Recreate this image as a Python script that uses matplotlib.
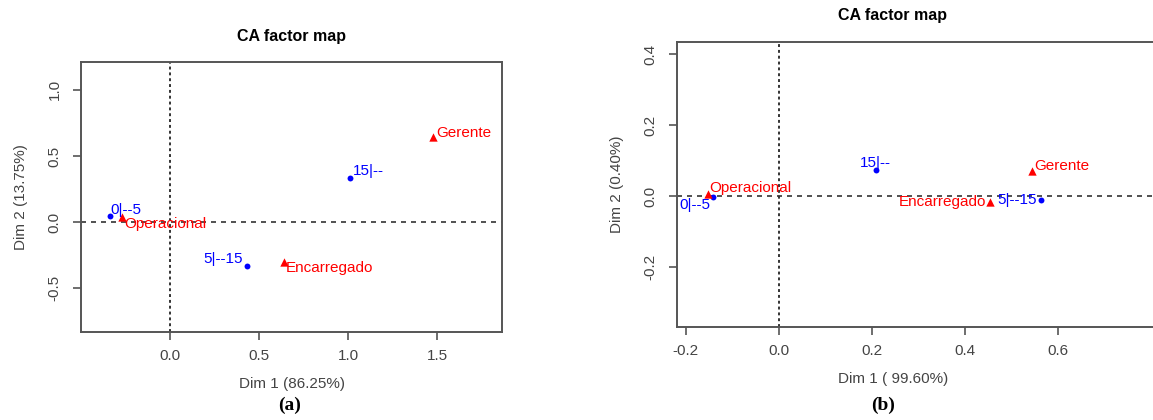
import matplotlib
matplotlib.use("Agg")
from matplotlib import pyplot as plt

plt.rcParams['font.family'] = ['Liberation Sans', 'DejaVu Sans']

# panel (a) coordinates
a_row_names = ["0|--5", "5|--15", "15|--"]
a_row_x = [-0.34, 0.43, 1.01]
a_row_y = [0.05, -0.33, 0.33]
a_col_names = ["Operacional", "Encarregado", "Gerente"]
a_col_x = [-0.27, 0.64, 1.48]
a_col_y = [0.04, -0.30, 0.64]

# panel (b) coordinates
b_row_names = ["0|--5", "5|--15", "15|--"]
b_row_x = [-0.142, 0.563, 0.21]
b_row_y = [-0.002, -0.010, 0.073]
b_col_names = ["Operacional", "Encarregado", "Gerente"]
b_col_x = [-0.153, 0.454, 0.544]
b_col_y = [0.006, -0.017, 0.070]

a_xticks = [0.0, 0.5, 1.0, 1.5]
a_yticks = [-0.5, 0.0, 0.5, 1.0]
b_xticks = [-0.2, 0.0, 0.2, 0.4, 0.6]
b_yticks = [-0.2, 0.0, 0.2, 0.4]

BLUE = "#0000ff"
RED = "#ff0000"
GREY = "#444444"

fig = plt.figure(figsize=(11.53, 4.2), dpi=100)


def style_axes(ax, xticks, yticks):
    for s in ax.spines.values():
        s.set_color("#555555")
        s.set_linewidth(1.4)
    ax.set_xticks(xticks)
    ax.set_yticks(yticks)
    ax.set_xticklabels([f"{t:.1f}" for t in xticks])
    ax.set_yticklabels([f"{t:.1f}" for t in yticks], rotation=90, va="center")
    ax.tick_params(colors="#555555", labelcolor=GREY, length=6, width=1.2,
                   labelsize=11, pad=6)
    ax.tick_params(axis="y", pad=8)
    ax.axhline(0, color="#333333", linestyle=(0, (3, 3)), linewidth=1.2, zorder=1)
    ax.axvline(0, color="#333333", linestyle=(0, (1.5, 1.5)), linewidth=1.4, zorder=1)


def draw_points(ax, xs, ys, names, offsets, color, marker, size):
    ax.scatter(xs, ys, color=color, marker=marker, s=size, zorder=3, linewidths=0)
    for x, y, name, (dx, dy, ha) in zip(xs, ys, names, offsets):
        ax.annotate(name, (x, y), xytext=(dx, dy), textcoords="offset pixels",
                    ha=ha, va="center", color=color, fontsize=11, zorder=4)


# ---- panel (a)
ax1 = fig.add_axes([0.0703, 0.2095, 0.3651, 0.6429])
ax1.set_xlim(-0.5, 1.865)
ax1.set_ylim(-0.83, 1.21)
style_axes(ax1, a_xticks, a_yticks)
draw_points(ax1, a_row_x, a_row_y, a_row_names,
            [(1, 6, "left"), (-4, 7, "right"), (3, 7, "left")], BLUE, "o", 18)
draw_points(ax1, a_col_x, a_col_y, a_col_names,
            [(2, -7, "left"), (2, -6, "left"), (3, 4, "left")], RED, "^", 36)
ax1.set_title("CA factor map", fontsize=11.5, fontweight="bold", pad=15)
ax1.set_xlabel("Dim 1 (86.25%)", fontsize=11, color=GREY, labelpad=10)
ax1.set_ylabel("Dim 2 (13.75%)", fontsize=11, color=GREY, labelpad=14)

# ---- panel (b)
ax2 = fig.add_axes([0.5872, 0.2214, 0.4310, 0.6786])
ax2.set_xlim(-0.219, 0.85)
ax2.set_ylim(-0.369, 0.434)
style_axes(ax2, b_xticks, b_yticks)
draw_points(ax2, b_row_x, b_row_y, b_row_names,
            [(-2, -8, "right"), (-4, 0, "right"), (-1, 7, "center")], BLUE, "o", 18)
draw_points(ax2, b_col_x, b_col_y, b_col_names,
            [(2, 6, "left"), (-4, 0, "right"), (3, 5, "left")], RED, "^", 36)
ax2.set_title("CA factor map", fontsize=11.5, fontweight="bold", pad=16,
              x=(892 - 677) / (1153 * 0.4310))
ax2.set_xlabel("Dim 1 ( 99.60%)", fontsize=11, color=GREY, labelpad=10,
               x=(893 - 677) / (1153 * 0.4310))
ax2.set_ylabel("Dim 2 (0.40%)", fontsize=11, color=GREY, labelpad=14)

fig.text(290 / 1153, 1 - 405 / 420, "(a)", ha="center", va="center",
         fontsize=14, fontweight="bold", family="Liberation Serif")
fig.text(883 / 1153, 1 - 405 / 420, "(b)", ha="center", va="center",
         fontsize=14, fontweight="bold", family="Liberation Serif")

fig.savefig("out.png", dpi=100)
